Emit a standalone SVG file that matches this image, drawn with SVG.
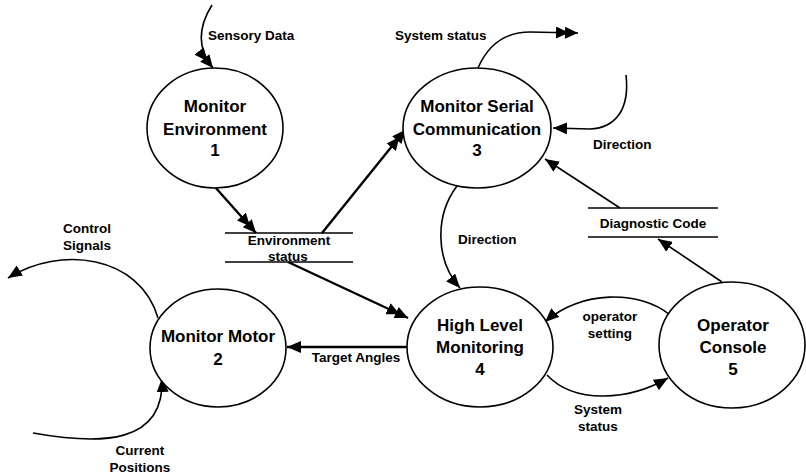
<svg xmlns="http://www.w3.org/2000/svg" width="806" height="476" viewBox="0 0 806 476">
<style>
.node{fill:#fff;stroke:#000;stroke-width:1.6}
.nt{font-family:"Liberation Sans",Arial,sans-serif;font-weight:bold;font-size:17px;text-anchor:middle;fill:#000}
.lb{font-family:"Liberation Sans",Arial,sans-serif;font-weight:bold;font-size:13.5px;fill:#000}
.c{fill:none;stroke:#000;stroke-width:1.6}
.t{fill:none;stroke:#000;stroke-width:2.4}
.store{stroke:#000;stroke-width:1.4}
</style>
<defs>
<marker id="a1" markerUnits="userSpaceOnUse" viewBox="0 0 14 12" refX="14" refY="6" markerWidth="14" markerHeight="12" orient="auto">
<path d="M0,0 L14,6 L0,12 Z" fill="#000"/>
</marker>
<marker id="a2" markerUnits="userSpaceOnUse" viewBox="0 0 22 12" refX="22" refY="6" markerWidth="22" markerHeight="12" orient="auto">
<path d="M0,0 L13,6 L0,12 Z M9,0 L22,6 L9,12 Z" fill="#000"/>
</marker>
</defs>
<g id="connectors">
<path class="c" d="M212,5 Q190,40 213,68" marker-end="url(#a2)"/>
<path class="c" d="M478,68 C488,45 505,32 530,32 L578,33" marker-end="url(#a2)"/>
<path class="c" d="M626,75 C630,110 615,128 590,129 L553,128" marker-end="url(#a1)"/>
<path class="c" d="M620,208 L545,159" marker-end="url(#a1)"/>
<path class="c" d="M722,282 L658,239" marker-end="url(#a1)"/>
<path class="t" d="M322,233 L405,130" marker-end="url(#a2)"/>
<path class="t" d="M215,187 L256,233" marker-end="url(#a2)"/>
<path class="t" d="M288,262 L408,318" marker-end="url(#a2)"/>
<path class="t" d="M407,347 L287,347" marker-end="url(#a1)"/>
<path class="c" d="M457,186 C435,215 435,260 460,288" marker-end="url(#a1)"/>
<path class="c" d="M670,315 C640,290 580,290 545,322" marker-end="url(#a1)"/>
<path class="c" d="M547,375 C575,405 630,400 668,378" marker-end="url(#a1)"/>
<path class="c" d="M158,318 C140,255 60,245 8,278" marker-end="url(#a1)"/>
<path class="c" d="M33,433 C100,445 165,445 162,378" marker-end="url(#a1)"/>
</g>
<g id="store-env">
<line class="store" x1="225" y1="233" x2="353" y2="233"/>
<line class="store" x1="225" y1="262" x2="353" y2="262"/>
<text class="lb" x="289" y="245" text-anchor="middle">Environment</text>
<text class="lb" x="288" y="261" text-anchor="middle">status</text>
</g>
<g id="store-diag">
<line class="store" x1="588" y1="208" x2="718" y2="208"/>
<line class="store" x1="588" y1="237" x2="718" y2="237"/>
<text class="lb" x="653" y="228" text-anchor="middle">Diagnostic Code</text>
</g>
<g id="node1">
<ellipse class="node" cx="215" cy="128" rx="68" ry="60"/>
<text class="nt" x="215" y="112">Monitor</text>
<text class="nt" x="215" y="135">Environment</text>
<text class="nt" x="215" y="156">1</text>
</g>
<g id="node2">
<ellipse class="node" cx="218" cy="348" rx="68" ry="59"/>
<text class="nt" x="218" y="342">Monitor Motor</text>
<text class="nt" x="218" y="365">2</text>
</g>
<g id="node3">
<ellipse class="node" cx="477" cy="128" rx="74" ry="60"/>
<text class="nt" x="477" y="112">Monitor Serial</text>
<text class="nt" x="477" y="135">Communication</text>
<text class="nt" x="477" y="156">3</text>
</g>
<g id="node4">
<ellipse class="node" cx="480" cy="347" rx="73" ry="60"/>
<text class="nt" x="480" y="331">High Level</text>
<text class="nt" x="480" y="353">Monitoring</text>
<text class="nt" x="480" y="375">4</text>
</g>
<g id="node5">
<ellipse class="node" cx="732" cy="345" rx="73" ry="63"/>
<text class="nt" x="733" y="331">Operator</text>
<text class="nt" x="733" y="353">Console</text>
<text class="nt" x="733" y="375">5</text>
</g>
<g id="labels">
<text class="lb" x="208" y="40">Sensory Data</text>
<text class="lb" x="395" y="40">System status</text>
<text class="lb" x="593" y="149">Direction</text>
<text class="lb" x="458" y="244">Direction</text>
<text class="lb" x="87" y="233" text-anchor="middle">Control</text>
<text class="lb" x="87" y="250" text-anchor="middle">Signals</text>
<text class="lb" x="140" y="455" text-anchor="middle">Current</text>
<text class="lb" x="140" y="472" text-anchor="middle">Positions</text>
<text class="lb" x="356" y="362" text-anchor="middle">Target Angles</text>
<text class="lb" x="610" y="321" text-anchor="middle">operator</text>
<text class="lb" x="610" y="338" text-anchor="middle">setting</text>
<text class="lb" x="598" y="414" text-anchor="middle">System</text>
<text class="lb" x="598" y="431" text-anchor="middle">status</text>
</g>
</svg>
